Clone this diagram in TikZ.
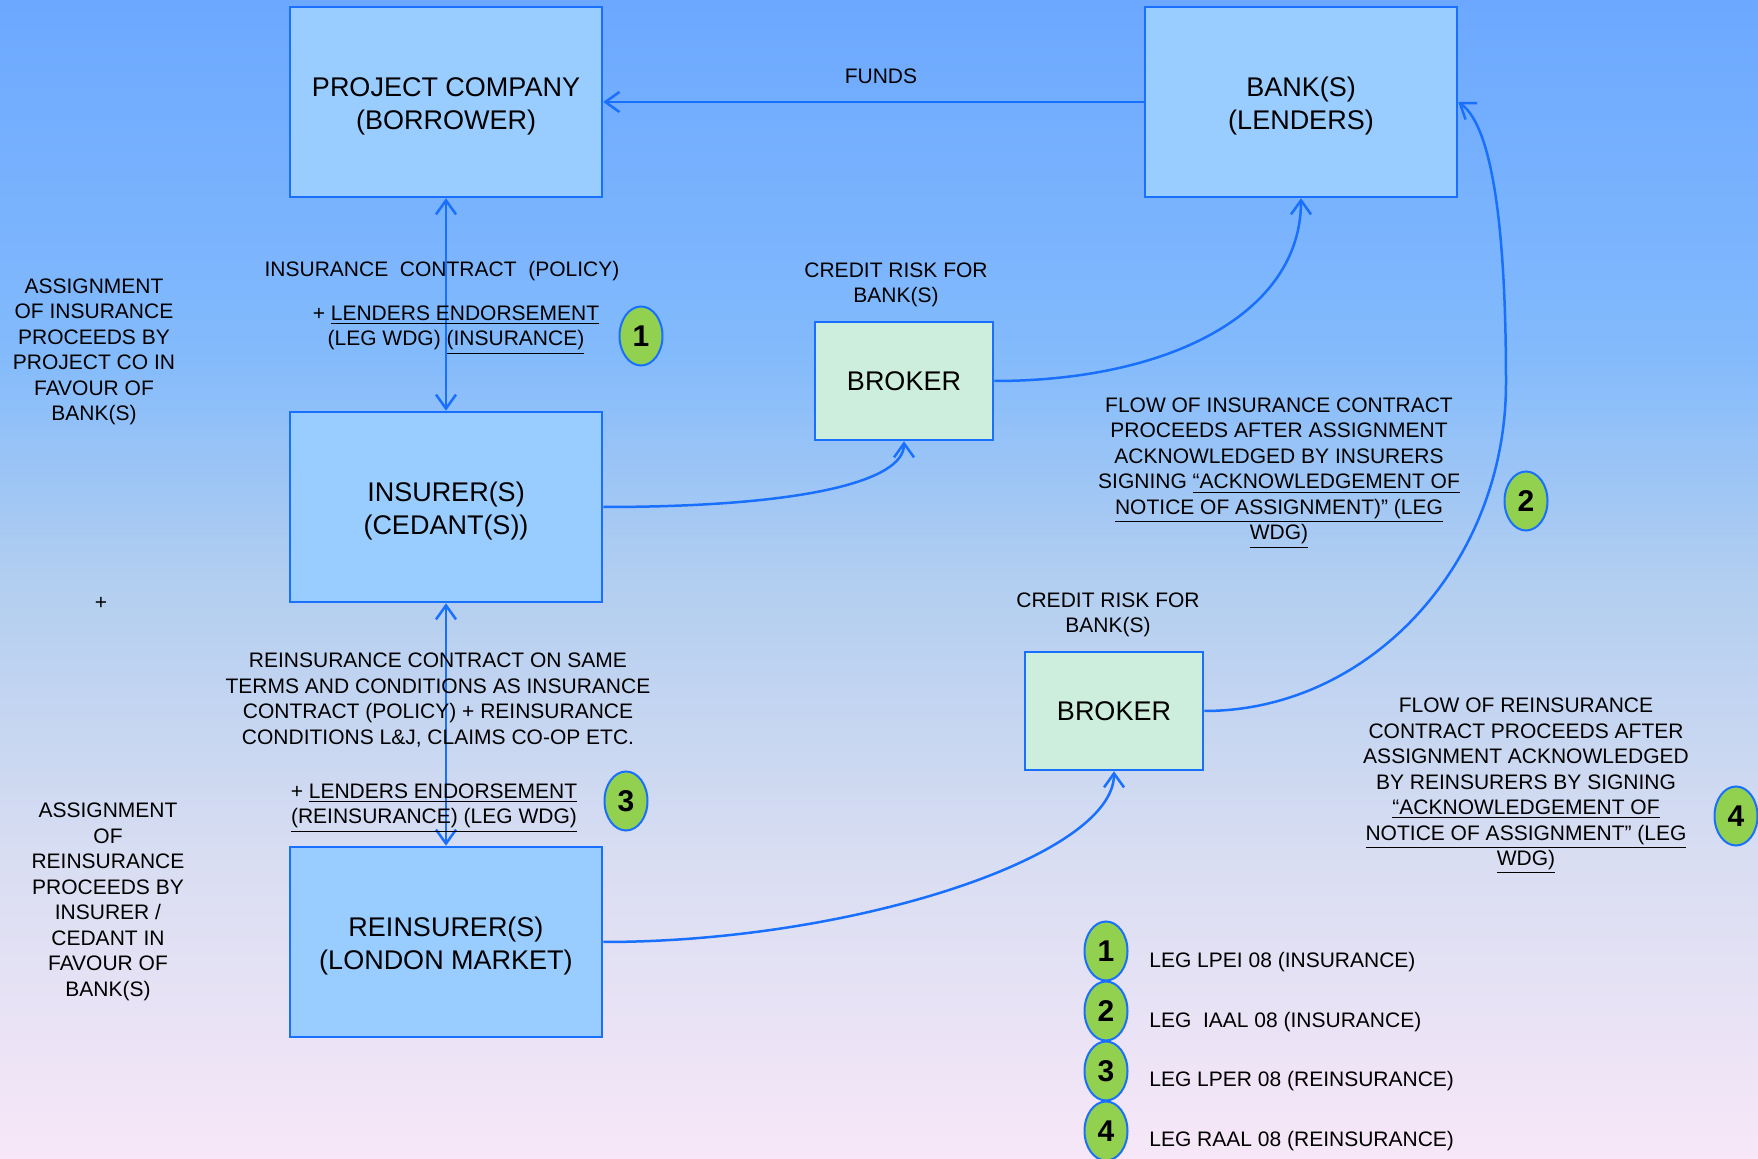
\documentclass[tikz,border=0pt]{standalone}
\usepackage{fontspec}
\setmainfont{Liberation Sans}
\usetikzlibrary{arrows.meta,shapes.geometric}
\definecolor{boxblue}{RGB}{153,204,255}
\definecolor{linkblue}{RGB}{25,112,255}
\definecolor{mint}{RGB}{205,238,221}
\definecolor{leggreen}{RGB}{146,208,80}
\definecolor{bgtop}{RGB}{108,168,255}
\definecolor{bghigh}{RGB}{130,186,252}
\definecolor{bgmid}{RGB}{178,206,240}
\definecolor{bglow}{RGB}{218,222,242}
\definecolor{bgbottom}{RGB}{247,231,248}
\pgfdeclareverticalshading{slidebg}{100bp}{color(0bp)=(bgbottom); color(25bp)=(bgbottom);
  color(37.5bp)=(bglow); color(50bp)=(bgmid); color(60bp)=(bghigh); color(75bp)=(bgtop);
  color(100bp)=(bgtop)}
\newcommand{\toppad}{\rule{0pt}{14pt}}
\tikzset{
  flowtip/.tip={Straight Barb[length=7pt,width=10pt]},
  party/.style={draw=linkblue, fill=boxblue, line width=1.25pt, minimum width=156pt,
    minimum height=95pt, align=center, font=\fontsize{13.5}{16.75}\selectfont},
  brokerbox/.style={party, fill=mint, minimum width=89pt, minimum height=59pt},
  legnum/.style={ellipse, draw=linkblue, fill=leggreen, line width=1pt, minimum width=21.5pt,
    minimum height=29.5pt, inner sep=0pt, font=\bfseries\fontsize{15}{15}\selectfont},
  note/.style={align=center, inner sep=0pt, font=\fontsize{10.5}{12.75}\selectfont},
  flow/.style={draw=linkblue, line width=1.25pt},
}
\begin{document}
\begin{tikzpicture}[x=0.5pt,y=-0.5pt]
\shade[shading=slidebg] (0,0) rectangle (1758,1159);
\useasboundingbox (0,0) rectangle (1758,1159);

% parties
\node[party] (pc) at (446,102) {\toppad PROJECT COMPANY\\(BORROWER)};
\node[party] (bank) at (1301,102) {\toppad BANK(S)\\(LENDERS)};
\node[party] (ins) at (446,507) {\toppad INSURER(S)\\(CEDANT(S))};
\node[party] (reins) at (446,942) {\toppad REINSURER(S)\\(LONDON MARKET)};
\node[brokerbox] (brk1) at (904,381) {BROKER};
\node[brokerbox] (brk2) at (1114,711) {BROKER};
\coordinate (bend) at (1506,383);

% flows
\draw[flow,-flowtip] (bank.west) -- (pc.east);
\draw[flow,flowtip-flowtip] (pc.south) -- (ins.north);
\draw[flow,flowtip-flowtip] (ins.south) -- (reins.north);
\draw[flow,-flowtip] (ins.east) .. controls +(200,0) and +(0,40) .. (brk1.south);
\draw[flow,-flowtip] (brk1.east) .. controls +(175,0) and +(0,115) .. (bank.south);
\draw[flow,-flowtip] (reins.east) .. controls +(250,0) and +(0,85) .. (brk2.south);
\draw[flow,-flowtip] (brk2.east) .. controls +(166,0) and +(0,180) .. (bend)
  .. controls +(0,-150) and +(35,25) .. (bank.east);

% labels
\node[note] (funds) at (881,76) {FUNDS};
\node[note] (inscon) at (442,271) {INSURANCE\ \ CONTRACT\ \ (POLICY)};
\node[note] (endins) at (456,330) {+ \underline{LENDERS ENDORSEMENT}\\(LEG WDG) \underline{(INSURANCE)}};
\node[note] (assins) at (94,352) {ASSIGNMENT\\OF INSURANCE\\PROCEEDS BY\\PROJECT CO IN\\FAVOUR OF\\BANK(S)};
\node[note] (plus) at (101,603) {+};
\node[note] (risk1) at (896,285) {CREDIT RISK FOR\\BANK(S)};
\node[note] (flowins) at (1279,473) {FLOW OF INSURANCE CONTRACT\\PROCEEDS AFTER ASSIGNMENT\\ACKNOWLEDGED BY INSURERS\\SIGNING \underline{“ACKNOWLEDGEMENT OF}\\\underline{NOTICE OF ASSIGNMENT)” (LEG}\\\underline{WDG)}};
\node[note] (risk2) at (1108,615) {CREDIT RISK FOR\\BANK(S)};
\node[note] (reincon) at (438,700) {REINSURANCE CONTRACT ON SAME\\TERMS AND CONDITIONS AS INSURANCE\\CONTRACT (POLICY) + REINSURANCE\\CONDITIONS L\&J, CLAIMS CO-OP ETC.};
\node[note] (endrein) at (434,808) {+ \underline{LENDERS ENDORSEMENT}\\\underline{(REINSURANCE) (LEG WDG)}};
\node[note] (assrein) at (108,902) {ASSIGNMENT\\OF\\REINSURANCE\\PROCEEDS BY\\INSURER /\\CEDANT IN\\FAVOUR OF\\BANK(S)};
\node[note] (flowrein) at (1526,786) {FLOW OF REINSURANCE\\CONTRACT PROCEEDS AFTER\\ASSIGNMENT ACKNOWLEDGED\\BY REINSURERS BY SIGNING\\\underline{“ACKNOWLEDGEMENT OF}\\\underline{NOTICE OF ASSIGNMENT” (LEG}\\\underline{WDG)}};

% leg numbers
\node[legnum] (n1) at (641,336) {1};
\node[legnum] (n2) at (1526,501) {2};
\node[legnum] (n3) at (626,801) {3};
\node[legnum] (n4) at (1736,816) {4};

% legend
\node[legnum] (k1) at (1106,951) {1};
\node[legnum] (k2) at (1106,1011) {2};
\node[legnum] (k3) at (1106,1071) {3};
\node[legnum] (k4) at (1106,1131) {4};
\node[note, anchor=west] (t1) at (1149,962) {LEG LPEI 08 (INSURANCE)};
\node[note, anchor=west] (t2) at (1149,1022) {LEG\ \ IAAL 08 (INSURANCE)};
\node[note, anchor=west] (t3) at (1149,1081) {LEG LPER 08 (REINSURANCE)};
\node[note, anchor=west] (t4) at (1149,1141) {LEG RAAL 08 (REINSURANCE)};
\end{tikzpicture}
\end{document}
